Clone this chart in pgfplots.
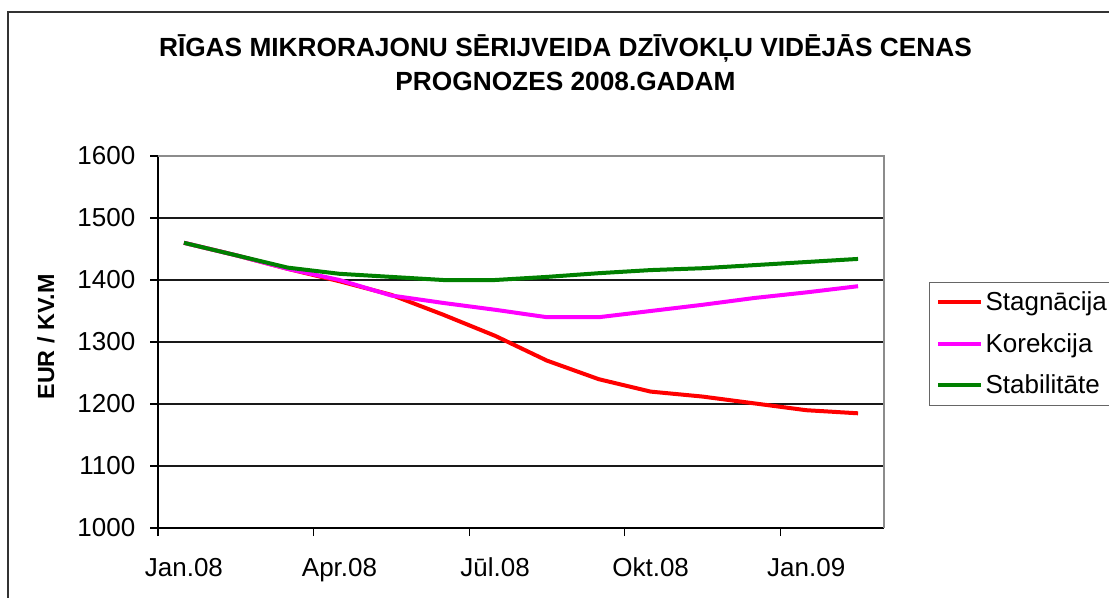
\documentclass[border=0pt]{standalone}
\usepackage{pgfplots}
\pgfplotsset{compat=1.18}
\usepackage{fontspec}
\setmainfont{Liberation Sans}
\definecolor{sred}{HTML}{FF0000}
\definecolor{smag}{HTML}{FF00FF}
\definecolor{sgreen}{HTML}{008000}
\begin{document}
\begin{tikzpicture}[x=0.75pt,y=0.75pt]
\useasboundingbox (0,0) rectangle (1109,597);
% outer chart border
\draw[line width=1.1pt, color=black!80] (8,-30) -- (8,585) -- (1140,585);
% title
\node[anchor=base, font=\fontsize{19.7}{22}\selectfont\bfseries] at (565.5,540) {RĪGAS MIKRORAJONU SĒRIJVEIDA DZĪVOKĻU VIDĒJĀS CENAS};
\node[anchor=base, font=\fontsize{19.7}{22}\selectfont\bfseries] at (565.5,506) {PROGNOZES 2008.GADAM};
% y label
\node[rotate=90, anchor=center, font=\fontsize{17.5}{20}\selectfont\bfseries] at (46,260) {EUR / KV.M};
\begin{axis}[
  at={(118.5pt,51.75pt)}, anchor=south west,
  scale only axis, width=544.5pt, height=279pt,
  xmin=-0.5, xmax=13.5, ymin=1000, ymax=1600,
  axis x line*=bottom, axis y line*=left,
  axis line style={line width=0.8pt, black, -},
  tick align=outside,
  major tick length=6pt,
  tick style={line width=0.8pt, black},
  ytick={1000,1100,...,1600},
  ymajorgrids, grid style={line width=0.8pt, black!90},
  xtick={-0.5,2.5,5.5,8.5,11.5}, xticklabels={},
  extra x ticks={0,3,6,9,12},
  extra x tick labels={Jan.08,Apr.08,Jūl.08,Okt.08,Jan.09},
  extra x tick style={major tick length=0pt, grid=none,
     tick label style={yshift=-19pt}},
  /pgf/number format/assume math mode=true,
  /pgf/number format/1000 sep={},
  tick label style={font=\fontsize{19.5}{22}\selectfont},
  yticklabel style={xshift=-7.5pt},
  legend style={at={(1.062,0.661)}, anchor=north west,
     font=\fontsize{19.5}{22}\selectfont, draw=black!60, line width=0.8pt,
     inner xsep=5pt, inner ysep=5pt, row sep=11.5pt,
     /tikz/every even column/.append style={column sep=0pt}},
  legend cell align=left,
  legend image code/.code={\draw[#1, line width=3pt] (0pt,0pt) -- (32pt,0pt);},
  clip=false,
]
\addplot[sred, line width=3pt] coordinates {
(0,1460) (1,1440) (2,1418) (3,1398) (4,1376) (5,1344) (6,1310) (7,1270) (8,1240) (9,1220) (10,1212) (11,1201) (12,1190) (13,1185)};
\addlegendentry{Stagnācija}
\addplot[smag, line width=3pt] coordinates {
(0,1460) (1,1440) (2,1418) (3,1400) (4,1375) (5,1363) (6,1352) (7,1340) (8,1340) (9,1350) (10,1360) (11,1371) (12,1380) (13,1390)};
\addlegendentry{Korekcija}
\addplot[sgreen, line width=3pt] coordinates {
(0,1460) (1,1440) (2,1420) (3,1410) (4,1405) (5,1400) (6,1400) (7,1405) (8,1411) (9,1416) (10,1419) (11,1424) (12,1429) (13,1434)};
\addlegendentry{Stabilitāte}
\draw[line width=0.8pt, black!45] (rel axis cs:0,1) -- (rel axis cs:1,1) -- (rel axis cs:1,0);
\end{axis}
\end{tikzpicture}
\end{document}
